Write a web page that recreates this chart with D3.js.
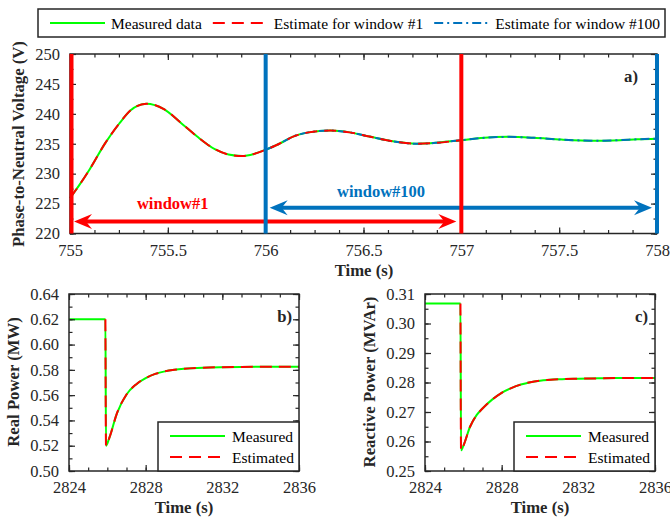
<!DOCTYPE html>
<html>
<head>
<meta charset="utf-8">
<script src="https://cdn.jsdelivr.net/npm/d3@7"></script>
<style>
	body { margin: 0; background: #fff; }
	svg, svg text { font-family: "Liberation Serif", "Times New Roman", serif; }
</style>
</head>
<body>
<svg id="chart" width="670" height="518"></svg>
<script>
(function() {
	// voltage, panel a)
	var voltTime = [755.0, 755.05, 755.1, 755.18, 755.25, 755.31, 755.39, 755.48, 755.57, 755.65, 755.74, 755.81, 755.88, 755.94,
		756.0, 756.07, 756.14, 756.22, 756.33, 756.43, 756.53, 756.65, 756.77, 756.87,
		757.0, 757.1, 757.24, 757.37, 757.51, 757.68, 757.81, 757.9, 758.0];
	var voltValue = [225.9, 228.2, 230.7, 235.1, 238.3, 240.6, 241.7, 240.8, 238.4, 236.2, 234.1, 233.2, 232.95, 233.3,
		234.0, 235.0, 236.2, 236.9, 237.2, 236.9, 236.2, 235.4, 235.0, 235.15,
		235.6, 235.95, 236.15, 236.0, 235.7, 235.5, 235.6, 235.75, 235.85];
	var windowNames = ["window#1", "window#100"];
	var windowStart = [755, 756];
	var windowEnd = [757, 758];
	var voltTicksX = [755, 755.5, 756, 756.5, 757, 757.5, 758];
	var voltTicksY = [220, 225, 230, 235, 240, 245, 250];

	// real and reactive power, panels b) and c)
	var powerTime = [2824, 2825.9, 2825.93, 2826.1, 2826.5, 2827, 2827.5, 2828, 2828.5, 2829, 2829.5, 2830, 2831, 2832, 2833, 2834, 2836];
	var realPower = [0.620, 0.620, 0.520, 0.526, 0.5455, 0.5605, 0.5685, 0.5735, 0.5768, 0.5788, 0.5800, 0.5808, 0.5817, 0.5821, 0.5823, 0.5824, 0.5825];
	var reactTime = [2824, 2825.85, 2825.88, 2826.0, 2826.35, 2826.7, 2827, 2827.5, 2828, 2828.5, 2829, 2829.5, 2830, 2831, 2832, 2833, 2834, 2836];
	var reactivePower = [0.3068, 0.3068, 0.2570, 0.2585, 0.2650, 0.2690, 0.2712, 0.2742, 0.2765, 0.2781, 0.2793, 0.2801, 0.2806, 0.2811, 0.2813, 0.2814, 0.2815, 0.2815];
	var powerTicksX = [2824, 2828, 2832, 2836];
	var realTicksY = [0.50, 0.52, 0.54, 0.56, 0.58, 0.60, 0.62, 0.64];
	var reactTicksY = [0.25, 0.26, 0.27, 0.28, 0.29, 0.30, 0.31];

	var green = "#00ff00", red = "#ff0000", blue = "#0072bd", ink = "#262626";
	var serif = "'Liberation Serif', 'Times New Roman', serif";
	var svg = d3.select("#chart");

	var zip = function(xs, ys) {
		return xs.map(function(x, i){ return {t: x, v: ys[i]}; });
	};

	var drawFrame = function(x, y, major, minor, fmtX, fmtY, padX) {
		var g = svg.append("g");
		var x0 = x.range()[0], x1 = x.range()[1], y0 = y.range()[0], y1 = y.range()[1];

		var put = function(axis, tx, ty, vals, size, fmt, pad) {
			var a = g.append("g")
				.attr("transform", "translate(" + tx + "," + ty + ")")
				.call(axis.tickValues(vals).tickSize(-size).tickPadding(pad || 0)
					.tickFormat(fmt || function(){ return ""; }));
			a.attr("font-family", null).attr("font-size", null);
			a.select(".domain").remove();
			a.selectAll("line").attr("stroke", ink).attr("stroke-width", 1.2);
			a.selectAll("text").attr("fill", ink)
				.style("font-size", "16.5px").style("font-family", serif);
			return a;
		};

		put(d3.axisBottom(x), 0, y0, major.x, 6, fmtX, padX);
		put(d3.axisBottom(x), 0, y0, minor.x, 3.5);
		put(d3.axisTop(x), 0, y1, major.x, 6);
		put(d3.axisTop(x), 0, y1, minor.x, 3.5);
		put(d3.axisLeft(y), x0, 0, major.y, 6, fmtY, 10);
		put(d3.axisLeft(y), x0, 0, minor.y, 3.5);
		put(d3.axisRight(y), x1, 0, major.y, 6);
		put(d3.axisRight(y), x1, 0, minor.y, 3.5);

		g.append("rect")
			.attr("x", x0).attr("y", y1)
			.attr("width", x1 - x0).attr("height", y0 - y1)
			.attr("fill", "none").attr("stroke", ink).attr("stroke-width", 1.5);
	};

	var label = function(txt, x, y, rot, anchor, size) {
		return svg.append("text")
			.attr("transform", "translate(" + x + "," + y + ")" + (rot ? " rotate(-90)" : ""))
			.attr("text-anchor", anchor || "middle")
			.attr("font-weight", "bold")
			.attr("font-size", size || "16.7px")
			.attr("fill", ink)
			.text(txt);
	};

	var arrowHead = function(px, py, dir, color) {
		var L = 18, W = 7.5, N = 12;
		svg.append("path")
			.attr("d", "M0,0L" + (-L) + "," + (-W) + "L" + (-N) + ",0L" + (-L) + "," + W + "Z")
			.attr("transform", "translate(" + px + "," + py + ") scale(" + dir + ",1)")
			.attr("fill", color);
	};

	// ---------- panel a ----------
	var xa = d3.scaleLinear().domain([755, 758]).range([70, 657]);
	var ya = d3.scaleLinear().domain([220, 250]).range([233.5, 54]);

	var volt = zip(voltTime, voltValue);
	var lineA = d3.line().x(function(d){ return xa(d.t); }).y(function(d){ return ya(d.v); }).curve(d3.curveMonotoneX);
	var inWin = function(k) {
		return volt.filter(function(d){ return d.t >= windowStart[k] && d.t <= windowEnd[k]; });
	};

	svg.append("path").attr("d", lineA(volt)).attr("fill", "none")
		.attr("stroke", green).attr("stroke-width", 2);
	svg.append("path").attr("d", lineA(inWin(1))).attr("fill", "none")
		.attr("stroke", blue).attr("stroke-width", 2).attr("stroke-dasharray", "9,4,2,4");
	svg.append("path").attr("d", lineA(inWin(0))).attr("fill", "none")
		.attr("stroke", red).attr("stroke-width", 2).attr("stroke-dasharray", "12,7");

	drawFrame(xa, ya,
		{x: voltTicksX, y: voltTicksY},
		{x: d3.range(25).map(function(i){ return 755 + i * 0.125; }), y: d3.range(13).map(function(i){ return 220 + i * 2.5; })},
		function(d){ return String(d); }, d3.format("d"), 11);

	// window arrows
	var winColors = [red, blue];
	var arrowLevel = [222, 224.3];
	var textPos = [{t: 755.525, v: 224.1}, {t: 756.59, v: 226.1}];
	windowNames.forEach(function(name, k) {
		var a = xa(windowStart[k]) + 4, b = xa(windowEnd[k]) - 5, yy = ya(arrowLevel[k]);
		svg.append("line").attr("x1", a + 10).attr("x2", b - 10).attr("y1", yy).attr("y2", yy)
			.attr("stroke", winColors[k]).attr("stroke-width", 4);
		arrowHead(a, yy, -1, winColors[k]);
		arrowHead(b, yy, 1, winColors[k]);
		svg.append("text")
			.attr("x", xa(textPos[k].t)).attr("y", ya(textPos[k].v))
			.attr("text-anchor", "middle").attr("font-weight", "bold")
			.attr("font-size", "16.5px").attr("fill", winColors[k])
			.text(name);
	});
	windowNames.forEach(function(name, k) {
		[windowStart[k], windowEnd[k]].forEach(function(t) {
			svg.append("line")
				.attr("x1", xa(t) + (t === 755 ? 1.5 : 0)).attr("x2", xa(t) + (t === 755 ? 1.5 : 0))
				.attr("y1", ya(220)).attr("y2", ya(250))
				.attr("stroke", winColors[k]).attr("stroke-width", 4);
		});
	});

	label("a)", 638, 82, false, "end");
	label("Phase-to-Neutral Voltage (V)", 24, 144, true);
	label("Time (s)", 364, 276);

	// top legend
	var leg = svg.append("g");
	leg.append("rect").attr("x", 38).attr("y", 9).attr("width", 627).attr("height", 28)
		.attr("fill", "#fff").attr("stroke", ink).attr("stroke-width", 1.5);
	var legItems = [
		{name: "Measured data", color: green, dash: null},
		{name: "Estimate for window #1", color: red, dash: "12,7"},
		{name: "Estimate for window #100", color: blue, dash: "9,4,2,4"}
	];
	var lx = 50;
	legItems.forEach(function(it) {
		leg.append("line").attr("x1", lx).attr("x2", lx + 55).attr("y1", 23).attr("y2", 23)
			.attr("stroke", it.color).attr("stroke-width", 2).attr("stroke-dasharray", it.dash);
		var t = leg.append("text").attr("x", lx + 61).attr("y", 28.5)
			.attr("font-size", "15.5px").attr("fill", "#000").text(it.name);
		lx = lx + 61 + t.node().getComputedTextLength() + 11;
	});

	// ---------- panels b and c ----------
	var drawPower = function(x0, x1, times, vals, yDom, ticksY, minorStep, tag, yTitle, titleX) {
		var x = d3.scaleLinear().domain([2824, 2836]).range([x0, x1]);
		var y = d3.scaleLinear().domain(yDom).range([471, 294]);
		var data = zip(times, vals);
		var est = data.filter(function(d){ return d.t >= times[1]; });
		var line = d3.line().x(function(d){ return x(d.t); }).y(function(d){ return y(d.v); }).curve(d3.curveMonotoneX);

		svg.append("path").attr("d", line(data)).attr("fill", "none")
			.attr("stroke", green).attr("stroke-width", 2);
		svg.append("path").attr("d", line(est)).attr("fill", "none")
			.attr("stroke", red).attr("stroke-width", 2).attr("stroke-dasharray", "12,7");

		var nMinor = Math.round((yDom[1] - yDom[0]) / minorStep);
		drawFrame(x, y,
			{x: powerTicksX, y: ticksY},
			{x: d3.range(13).map(function(i){ return 2824 + i; }), y: d3.range(nMinor + 1).map(function(i){ return yDom[0] + i * minorStep; })},
			d3.format("d"), d3.format(".2f"), 10);

		// legend box
		var bx = x1 - 141, by = 422;
		svg.append("rect").attr("x", bx).attr("y", by).attr("width", 141).attr("height", 49)
			.attr("fill", "#fff").attr("stroke", ink).attr("stroke-width", 1.5);
		[["Measured", green, null, 14], ["Estimated", red, "12,7", 35]].forEach(function(r) {
			svg.append("line").attr("x1", bx + 12).attr("x2", bx + 67)
				.attr("y1", by + r[3]).attr("y2", by + r[3])
				.attr("stroke", r[1]).attr("stroke-width", 2).attr("stroke-dasharray", r[2]);
			svg.append("text").attr("x", bx + 74).attr("y", by + r[3] + 5.5)
				.attr("font-size", "15.5px").attr("fill", "#000").text(r[0]);
		});

		label(tag, x1 - 7, 322, false, "end");
		label(yTitle, titleX, 382, true);
		label("Time (s)", (x0 + x1) / 2, 513);
	};

	drawPower(69, 299, powerTime, realPower, [0.50, 0.64], realTicksY, 0.01, "b)", "Real Power (MW)", 19);
	drawPower(425, 655, reactTime, reactivePower, [0.25, 0.31], reactTicksY, 0.005, "c)", "Reactive Power (MVAr)", 375);
})();
</script>
</body>
</html>
